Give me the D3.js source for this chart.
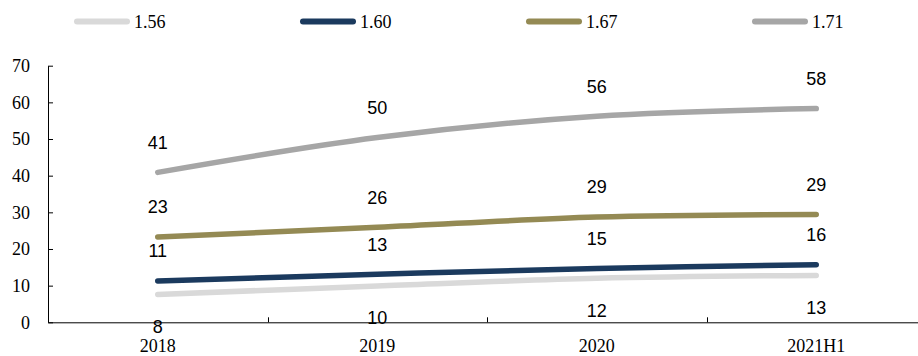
<!DOCTYPE html>
<html>
<head>
<meta charset="utf-8">
<script src="https://cdn.jsdelivr.net/npm/d3@7/dist/d3.min.js"></script>
<style>
  html, body { margin: 0; padding: 0; background: #fff; }
  svg { display: block; }
</style>
</head>
<body>
<svg id="chart" width="918" height="356"></svg>
<script>
// Categories and series values
const categories = ["2018", "2019", "2020", "2021H1"];
const seriesNames = ["1.56", "1.60", "1.67", "1.71"];
const values156 = [7.6, 9.9, 12.0, 12.8];
const values160 = [11.3, 13.1, 14.7, 15.7];
const values167 = [23.3, 25.9, 28.7, 29.4];
const values171 = [40.9, 50.4, 56.2, 58.3];
const yTicks = [0, 10, 20, 30, 40, 50, 60, 70];

const colors = ["#D9D9D9", "#1B3A5E", "#948A54", "#A6A6A6"];
// label placement: negative = above the line, positive = below
const labelOffsets = [32, -30, -30, -30];

const series = [values156, values160, values167, values171].map((vals, i) => ({
  name: seriesNames[i],
  color: colors[i],
  offset: labelOffsets[i],
  points: vals.map((v, j) => ({ cat: categories[j], value: v }))
}));

const svg = d3.select("#chart");
const plotLeft = 48, plotRight = 926, plotTop = 65.7, plotBottom = 322.3;

const x = d3.scaleBand().domain(categories).range([plotLeft, plotRight]).padding(0);
const y = d3.scaleLinear().domain([0, 70]).range([plotBottom, plotTop]);

const serif = "'Times New Roman', 'Liberation Serif', serif";
const sans = "Arial, 'Liberation Sans', sans-serif";

// Y axis
const yAxis = svg.append("g")
  .attr("transform", `translate(${plotLeft},0)`)
  .call(d3.axisLeft(y).tickValues(yTicks).tickSizeInner(-5).tickSizeOuter(0).tickPadding(18));
yAxis.selectAll("text").attr("font-family", serif).attr("font-size", 18).attr("fill", "#000");
yAxis.selectAll("line, path").attr("stroke", "#000");

// X axis
const xAxis = svg.append("g")
  .attr("transform", `translate(0,${plotBottom})`)
  .call(d3.axisBottom(x).tickSize(0).tickPadding(17));
xAxis.selectAll("text").attr("font-family", serif).attr("font-size", 18).attr("fill", "#000");
xAxis.select("path").attr("stroke", "#000");

// Inward tick marks on category boundaries
svg.append("g").selectAll("line")
  .data(categories.slice(1))
  .join("line")
  .attr("x1", d => Math.round(x(d)) + 0.5)
  .attr("x2", d => Math.round(x(d)) + 0.5)
  .attr("y1", plotBottom)
  .attr("y2", plotBottom - 5)
  .attr("stroke", "#000");

// Lines
const line = d3.line()
  .x(d => x(d.cat) + x.bandwidth() / 2)
  .y(d => y(d.value))
  .curve(d3.curveCatmullRom.alpha(0.5));

svg.append("g").selectAll("path")
  .data(series)
  .join("path")
  .attr("d", d => line(d.points))
  .attr("fill", "none")
  .attr("stroke", d => d.color)
  .attr("stroke-width", 5.5)
  .attr("stroke-linecap", "round")
  .attr("stroke-linejoin", "round");

// Value labels
const fmt = d3.format(".0f");
series.forEach(s => {
  svg.append("g").selectAll("text")
    .data(s.points)
    .join("text")
    .attr("x", d => x(d.cat) + x.bandwidth() / 2)
    .attr("y", d => y(d.value) + s.offset)
    .attr("dy", "0.35em")
    .attr("text-anchor", "middle")
    .attr("font-family", sans)
    .attr("font-size", 18)
    .attr("fill", "#000")
    .text(d => fmt(d.value));
});

// Legend
const legendX = d3.scaleBand().domain(seriesNames).range([74, 978]).padding(0);
const legend = svg.append("g").selectAll("g")
  .data(series)
  .join("g")
  .attr("transform", d => `translate(${legendX(d.name)},21.5)`);
legend.append("line")
  .attr("x1", 3).attr("x2", 53)
  .attr("y1", 0).attr("y2", 0)
  .attr("stroke", d => d.color)
  .attr("stroke-width", 6)
  .attr("stroke-linecap", "round");
legend.append("text")
  .attr("x", 60)
  .attr("y", 0)
  .attr("dy", "0.35em")
  .attr("font-family", serif)
  .attr("font-size", 18)
  .attr("fill", "#000")
  .text(d => d.name);
</script>
</body>
</html>
